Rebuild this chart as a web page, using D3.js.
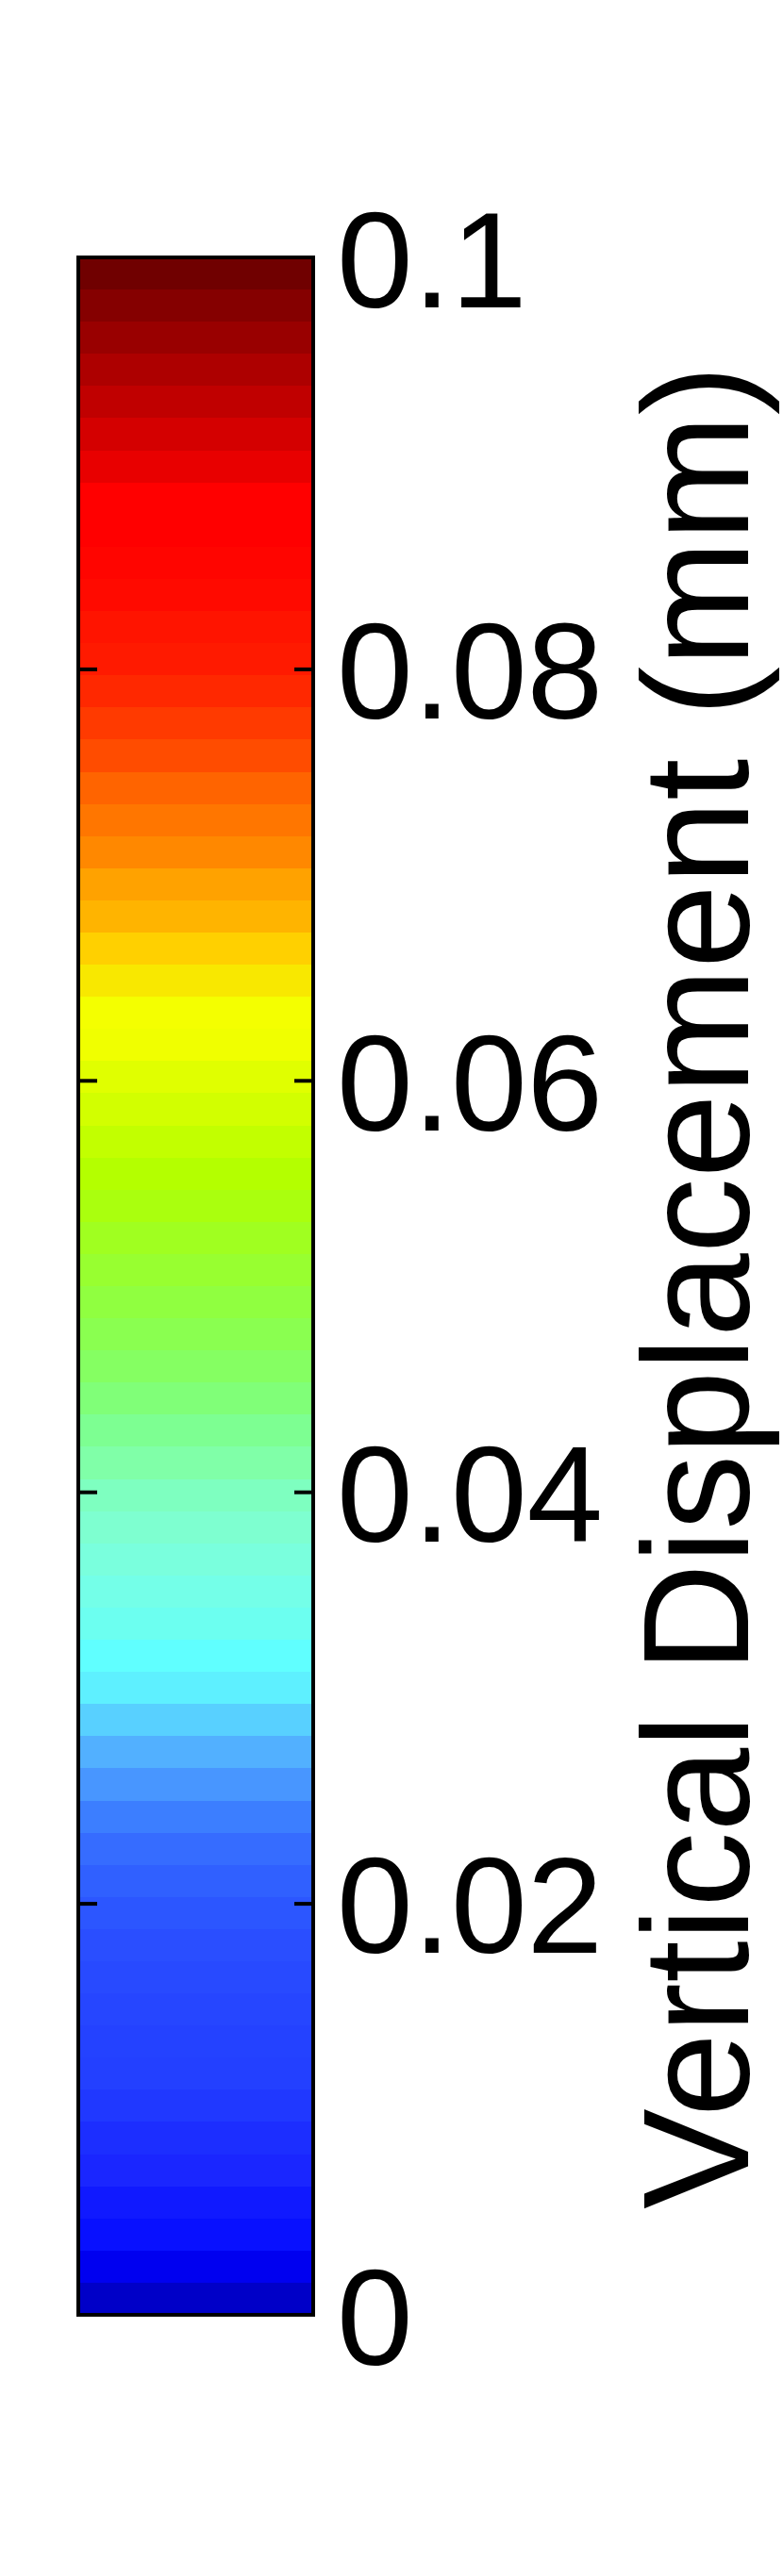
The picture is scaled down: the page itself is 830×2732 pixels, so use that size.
<!DOCTYPE html>
<html>
<head>
<meta charset="utf-8">
<script src="https://cdn.jsdelivr.net/npm/d3@7"></script>
<style>
  body { margin: 0; background: #fff; }
  svg { display: block; }
  .tick text { font-family: "Liberation Sans", Arial, Helvetica, sans-serif; }
</style>
</head>
<body>
<script>
let w = 830;
let h = 2732;

// colour levels, lowest value first (64 bands)
let bandColors = [
  "#0000C8", "#0000F0", "#0810FF", "#1019FF", "#1A26FF", "#1C2EFF", "#2038FF", "#2340FF",
  "#2442FF", "#2646FF", "#284AFF", "#2A4EFF", "#2C56FF", "#3060FF", "#366CFF", "#3C7EFF",
  "#4896FF", "#52B0FF", "#58D0FF", "#5EF0FF", "#60FFFF", "#6CFFF0", "#74FFE8", "#7AFFDD",
  "#7EFFD0", "#7EFFC0", "#80FFA8", "#7DFF92", "#80FF78", "#85FF62", "#8AFF50", "#90FF40",
  "#98FF30", "#A0FF20", "#AAFF0E", "#B4FF00", "#C2FF00", "#D2FF00", "#E0FF00", "#F0FF00",
  "#F4FF00", "#F8E800", "#FFD000", "#FFB400", "#FFA200", "#FF8800", "#FF7600", "#FF6400",
  "#FF4C00", "#FF3A00", "#FF2800", "#FF1A00", "#FF1400", "#FF0A00", "#FF0500", "#FF0000",
  "#FF0000", "#E80000", "#D40000", "#C00000", "#AD0000", "#990000", "#850000", "#700000"
];

let minValue = 0;
let maxValue = 0.1;
let tickValues = [0, 0.02, 0.04, 0.06, 0.08, 0.1];
let tickLabels = ["0", "0.02", "0.04", "0.06", "0.08", "0.1"];
let axisTitle = "Vertical Displacement (mm)";

let barLeft = 83;
let barRight = 332;
let barTop = 273;
let barBottom = 2455;

let svg = d3.select("body").append("svg").attr("width", w).attr("height", h);

let yScale = d3.scaleLinear()
    .domain([minValue, maxValue])
    .range([barBottom, barTop]);

let step = (maxValue - minValue) / bandColors.length;

// colour bands
svg.selectAll("rect.band")
    .data(bandColors)
    .enter()
    .append("rect")
    .attr("class", "band")
    .attr("x", barLeft)
    .attr("width", barRight - barLeft)
    .attr("y", function(d, i) { return yScale(minValue + (i + 1) * step); })
    .attr("height", function(d, i) { return yScale(minValue + i * step) - yScale(minValue + (i + 1) * step); })
    .attr("fill", function(d) { return d; })
    .attr("shape-rendering", "crispEdges");

// inner ticks on both sides
let leftTicks = d3.axisRight(yScale)
    .tickValues(tickValues.slice(1, -1))
    .tickSizeInner(20)
    .tickSizeOuter(0)
    .tickFormat("");

let rightTicks = d3.axisLeft(yScale)
    .tickValues(tickValues.slice(1, -1))
    .tickSizeInner(20)
    .tickSizeOuter(0)
    .tickFormat("");

svg.append("g")
    .attr("transform", "translate(" + barLeft + ",0)")
    .call(leftTicks)
    .call(g => g.select(".domain").remove())
    .call(g => g.selectAll(".tick line").attr("stroke", "#000").attr("stroke-width", 4));

svg.append("g")
    .attr("transform", "translate(" + barRight + ",0)")
    .call(rightTicks)
    .call(g => g.select(".domain").remove())
    .call(g => g.selectAll(".tick line").attr("stroke", "#000").attr("stroke-width", 4));

// tick labels
let labelAxis = d3.axisRight(yScale)
    .tickValues(tickValues)
    .tickSize(0)
    .tickPadding(25)
    .tickFormat(function(d, i) { return tickLabels[i]; });

svg.append("g")
    .attr("transform", "translate(" + barRight + ",0)")
    .call(labelAxis)
    .call(g => g.select(".domain").remove())
    .call(g => g.selectAll(".tick text")
        .attr("dy", "0.36em")
        .attr("fill", "#000")
        .style("font-size", "145px"));

// frame
svg.append("rect")
    .attr("x", barLeft)
    .attr("y", barTop)
    .attr("width", barRight - barLeft)
    .attr("height", barBottom - barTop)
    .attr("fill", "none")
    .attr("stroke", "#000")
    .attr("stroke-width", 4);

// axis title
svg.append("text")
    .attr("transform", "translate(793,1365) rotate(-90)")
    .style("text-anchor", "middle")
    .style("font-family", "'Liberation Sans', Arial, Helvetica, sans-serif")
    .style("font-size", "160px")
    .attr("fill", "#000")
    .text(axisTitle);
</script>
</body>
</html>
